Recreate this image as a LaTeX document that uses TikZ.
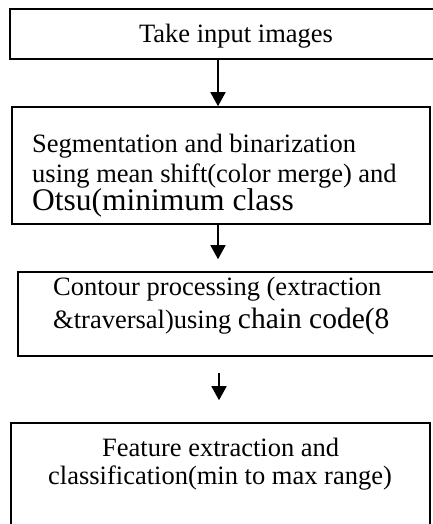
\documentclass[tikz,border=0pt]{standalone}
\usepackage{fontspec}
\setmainfont{Liberation Serif}
\usetikzlibrary{arrows.meta}
\begin{document}
\begin{tikzpicture}[x=1pt,y=-1pt,
  box/.style={draw,line width=1.6pt,inner sep=0pt},
  txt/.style={inner sep=0pt,anchor=base west,font=\fontsize{26.5}{30}\selectfont},
  flow/.style={line width=1.6pt,-{Triangle[length=14pt,width=15pt]}}]
\useasboundingbox (0,0) rectangle (433,524);
\node[box,minimum width=426pt,minimum height=50pt] (b1) at (223,34) {};
\node[box,minimum width=418pt,minimum height=117pt] (b2) at (221,165.5) {};
\node[box,minimum width=418pt,minimum height=84pt] (b3) at (227,314) {};
\node[box,minimum width=419pt,minimum height=107pt] (b4) at (220.5,476.5) {};
\node[txt,anchor=base] (t1) at (236,43) {Take input images};
\node[txt] (t2a) at (32,152) {Segmentation and binarization};
\node[txt] (t2b) at (32,182) {using mean shift(color merge) and};
\node[txt] (t2c) at (32,210) {\fontsize{31.5}{34}\selectfont Otsu(minimum class};
\node[txt] (t3a) at (53,295) {Contour processing (extraction};
\node[txt] (t3b) at (53,328) {\&traversal)using {\fontsize{29.5}{32}\selectfont chain code(8}};
\node[txt] (t4a) at (102,456) {Feature extraction and};
\node[txt] (t4b) at (48,484) {classification(min to max range)};
\coordinate (ax) at (218,0);
\coordinate (ax3) at (219,0);
\draw[flow] (b1.south -| ax) -- (b2.north -| ax);
\draw[flow,shorten >=12pt] (b2.south -| ax) -- (b3.north -| ax);
\draw[flow,shorten <=16pt,shorten >=22pt] (b3.south -| ax3) -- (b4.north -| ax3);
\end{tikzpicture}
\end{document}
